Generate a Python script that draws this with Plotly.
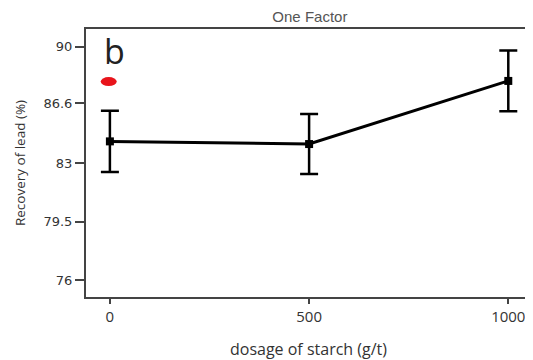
import plotly.graph_objects as go

dosage = [0, 500, 1000]
recovery = [84.32, 84.16, 87.94]
error = [1.84, 1.8, 1.82]
red_x = [-3]
red_y = [87.9]
y_ticks = [76, 79.5, 83, 86.6, 90]
y_tick_text = ["76", "79.5", "83", "86.6", "90"]
x_ticks = [0, 500, 1000]

fig = go.Figure()
fig.add_trace(go.Scatter(
    x=dosage, y=recovery, mode="lines+markers",
    line=dict(color="black", width=3),
    marker=dict(symbol="square", size=8, color="black"),
    error_y=dict(type="data", array=error, visible=True, color="black",
                 thickness=2.5, width=9),
    showlegend=False,
))

fig.add_shape(type="circle", xref="x", yref="y",
              xsizemode="pixel", ysizemode="pixel",
              xanchor=red_x[0], yanchor=red_y[0],
              x0=-8, x1=8, y0=-4.5, y1=4.5,
              fillcolor="#e8141b", line=dict(width=0))

fig.add_annotation(text="b", xref="paper", yref="paper", x=0.065, y=1.01,
                   xanchor="center", yanchor="top", showarrow=False,
                   font=dict(size=34, color="#222", family="Open Sans"))

fig.update_layout(
    width=525, height=352,
    margin=dict(l=78, r=0, t=21, b=63),
    paper_bgcolor="white", plot_bgcolor="white",
    title=dict(text="One Factor", x=0.575, xanchor="center", y=0.975, yanchor="middle",
               font=dict(size=15, color="#555", family="Liberation Sans")),
    font=dict(family="Open Sans", color="#333"),
)
fig.update_xaxes(range=[-60, 1057], tickvals=x_ticks, ticks="outside", ticklen=5,
                 tickwidth=2, tickcolor="#444", showline=True, linewidth=2,
                 linecolor="#444", mirror=True, showgrid=False, zeroline=False,
                 tickfont=dict(size=15, color="#333", family="Open Sans"),
                 title=dict(text="dosage of starch (g/t)", standoff=19,
                            font=dict(size=16, color="#333", family="Open Sans")))
fig.update_yaxes(range=[75.0, 91.05], tickvals=y_ticks, ticktext=y_tick_text,
                 ticks="outside", ticklen=9, tickwidth=2, tickcolor="#444",
                 showline=True, linewidth=2, linecolor="#444", mirror=True,
                 showgrid=False, zeroline=False,
                 tickfont=dict(size=13, color="#333", family="DejaVu Sans"),
                 title=dict(text="Recovery of lead (%)", standoff=15,
                            font=dict(size=13.5, color="#333", family="Open Sans")))

fig.write_html("out.html")
